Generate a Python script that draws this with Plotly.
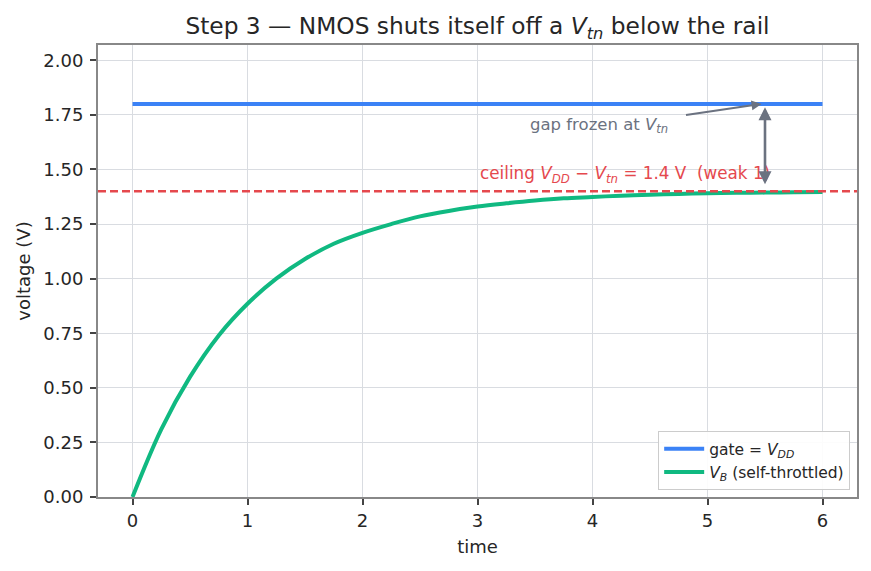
import plotly.graph_objects as go

# data
t_vals = [0, 0.25, 0.5, 0.75, 1.0, 1.25, 1.5, 1.75, 2.0, 2.25, 2.5, 2.75, 3.0,
          3.25, 3.5, 3.75, 4.0, 4.25, 4.5, 4.75, 5.0, 5.25, 5.5, 5.75, 6.0]
vb_vals = [0.0, 0.31, 0.55, 0.74, 0.885, 1.0, 1.09, 1.16, 1.21, 1.25, 1.285, 1.31, 1.33,
           1.345, 1.358, 1.368, 1.374, 1.380, 1.384, 1.388, 1.391, 1.393, 1.394, 1.396, 1.397]
gate_t = [0, 6]
gate_v = [1.8, 1.8]
VDD = 1.8
CEIL = 1.4
x_ticks = [0, 1, 2, 3, 4, 5, 6]
y_ticks = [0.0, 0.25, 0.5, 0.75, 1.0, 1.25, 1.5, 1.75, 2.0]

BLUE = "#3b82f6"
GREEN = "#10b981"
RED = "#e5484d"
GRAY = "#6b7280"
INK = "#262626"
FONT = "DejaVu Sans"

fig = go.Figure()
fig.add_trace(go.Scatter(x=gate_t, y=gate_v, mode="lines",
                         line=dict(color=BLUE, width=4),
                         name="gate = <i>V<sub>DD</sub></i>"))
fig.add_trace(go.Scatter(x=t_vals, y=vb_vals, mode="lines",
                         line=dict(color=GREEN, width=4, shape="spline"),
                         name="<i>V<sub>B</sub></i> (self-throttled)"))

fig.add_hline(y=CEIL, line=dict(color=RED, width=2.6, dash="8px,4px"), layer="above")

fig.add_annotation(x=3.0, y=1.475, xref="x", yref="y", showarrow=False,
                   xanchor="left", yanchor="middle",
                   text="ceiling <i>V<sub>DD</sub></i> \u2212 <i>V<sub>tn</sub></i> = 1.4 V  (weak 1)",
                   font=dict(family=FONT, size=16.8, color=RED))
fig.add_annotation(x=4.06, y=1.70, xref="x", yref="y", showarrow=False,
                   xanchor="center", yanchor="middle",
                   text="gap frozen at <i>V<sub>tn</sub></i>",
                   font=dict(family=FONT, size=16.5, color=GRAY))
fig.add_annotation(x=5.47, y=1.80, xref="x", yref="y",
                   ax=4.8, ay=1.748, axref="x", ayref="y",
                   showarrow=True, arrowhead=2, arrowsize=1, arrowwidth=2,
                   arrowcolor=GRAY, text="")
fig.add_annotation(x=5.5, y=1.785, xref="x", yref="y",
                   ax=5.5, ay=1.425, axref="x", ayref="y",
                   showarrow=True, arrowhead=2, startarrowhead=2,
                   arrowside="end+start", arrowsize=1, startarrowsize=1, arrowwidth=2.6,
                   arrowcolor=GRAY, text="")

axis_common = dict(showgrid=True, gridcolor="#d9dce1", gridwidth=1,
                   showline=True, linecolor="#888888", linewidth=2, mirror=True,
                   ticks="outside", ticklen=6, tickwidth=1.5, tickcolor="#444444",
                   tickfont=dict(family=FONT, size=18, color=INK),
                   zeroline=False)

fig.update_xaxes(range=[-0.3, 6.3], tickvals=x_ticks, ticklabelstandoff=0,
                 title=dict(text="time", font=dict(family=FONT, size=18, color=INK), standoff=11),
                 **axis_common)
fig.update_yaxes(range=[0, 2.07], tickvals=y_ticks, tickformat=".2f", ticklabelstandoff=3,
                 title=dict(text="voltage (V)", font=dict(family=FONT, size=18, color=INK), standoff=8),
                 **axis_common)

fig.update_layout(
    width=871, height=571,
    margin=dict(l=98, r=14, t=45, b=74),
    plot_bgcolor="white", paper_bgcolor="white",
    title=dict(text="Step 3 \u2014 NMOS shuts itself off a <i>V<sub>tn</sub></i> below the rail",
               x=(98 + 857) / 2 / 871, xanchor="center", y=1 - 26 / 571, yanchor="middle",
               font=dict(family=FONT, size=23.3, color=INK)),
    legend=dict(x=0.991, y=0.015, xanchor="right", yanchor="bottom",
                bgcolor="rgba(255,255,255,0.9)", bordercolor="#cccccc", borderwidth=1,
                itemwidth=40,
                font=dict(family=FONT, size=15.5, color=INK)),
    showlegend=True,
)

fig.write_html("out.html")
